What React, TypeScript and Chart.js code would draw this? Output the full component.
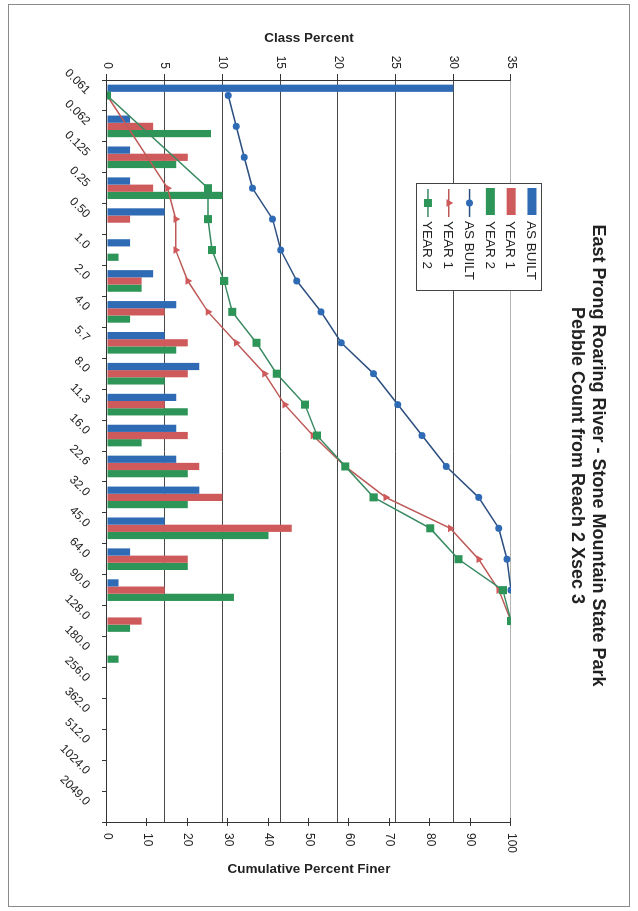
import React, { useEffect, useRef } from 'react';
import { Chart, registerables } from 'chart.js';

Chart.register(...registerables);

// Particle size classes (mm)
const sizeClasses = [
  '0.061', '0.062', '0.125', '0.25', '0.50', '1.0', '2.0', '4.0', '5.7', '8.0', '11.3', '16.0',
  '22.6', '32.0', '45.0', '64.0', '90.0', '128.0', '180.0', '256.0', '362.0', '512.0', '1024.0', '2049.0',
];

// Class percent per size class
const classAsBuilt = [30, 2, 2, 2, 5, 2, 4, 6, 5, 8, 6, 6, 6, 8, 5, 2, 1, 0, 0, 0, 0, 0, 0, 0];
const classYear1 = [0, 4, 7, 4, 2, 0, 3, 5, 7, 7, 5, 7, 8, 10, 16, 7, 5, 3, 0, 0, 0, 0, 0, 0];
const classYear2 = [0, 9, 6, 10, 0, 1, 3, 2, 6, 5, 7, 3, 7, 7, 14, 7, 11, 2, 1, 0, 0, 0, 0, 0];

// Cumulative percent finer
const cumAsBuilt = [30, 32, 34, 36, 41, 43, 47, 53, 58, 66, 72, 78, 84, 92, 97, 99, 100, null, null, null, null, null, null, null];
const cumYear1 = [0, null, null, 15, 17, 17, 20, 25, 32, 39, 44, 51, 59, 69, 85, 92, 97, 100, null, null, null, null, null, null];
const cumYear2 = [0, null, null, 25, 25, 26, 29, 31, 37, 42, 49, 52, 59, 66, 80, 87, 98, 100, null, null, null, null, null, null];

const classTicks = [0, 5, 10, 15, 20, 25, 30, 35];
const cumTicks = [0, 10, 20, 30, 40, 50, 60, 70, 80, 90, 100];

const titleLines = ['East Prong Roaring River - Stone Mountain State Park', 'Pebble Count from Reach 2 Xsec 3'];
const leftTitle = 'Class Percent';
const rightTitle = 'Cumulative Percent Finer';

const FONT = "'Liberation Sans', Arial, Helvetica, sans-serif";
const TEXT = '#222222';
const AXIS = '#333333';

const BLUE = '#2e6bb4';
const RED = '#cf5a5c';
const GREEN = '#2e9558';

const W = 911;
const H = 638;

// Frame, right-axis cross ticks, right-axis title and the boxed legend
const extrasPlugin = {
  id: 'extras',
  beforeDraw(chart: any) {
    const { ctx } = chart;
    ctx.save();
    ctx.strokeStyle = '#8a8a8a';
    ctx.lineWidth = 1;
    ctx.strokeRect(4.5, 8.5, W - 9, H - 17);
    ctx.restore();
  },
  afterDraw(chart: any) {
    const { ctx, chartArea: area } = chart;
    const y2 = chart.scales.y2;
    ctx.save();
    ctx.strokeStyle = AXIS;
    ctx.lineWidth = 1;
    cumTicks.forEach((v) => {
      const py = Math.round(y2.getPixelForValue(v)) + 0.5;
      ctx.beginPath();
      ctx.moveTo(area.right - 4, py);
      ctx.lineTo(area.right + 4, py);
      ctx.stroke();
    });
    ctx.restore();

    ctx.save();
    ctx.translate(area.right + 47, (area.top + area.bottom) / 2);
    ctx.rotate(-Math.PI / 2);
    ctx.font = `bold 13.5px ${FONT}`;
    ctx.fillStyle = TEXT;
    ctx.textAlign = 'center';
    ctx.textBaseline = 'middle';
    ctx.fillText(rightTitle, 0, 0);
    ctx.restore();

    // legend
    const bx = area.left + 103;
    const by = area.top - 31;
    const bw = 107;
    const bh = 125;
    ctx.save();
    ctx.fillStyle = '#ffffff';
    ctx.fillRect(bx, by, bw, bh);
    ctx.strokeStyle = '#444444';
    ctx.lineWidth = 1;
    ctx.strokeRect(Math.round(bx) + 0.5, Math.round(by) + 0.5, bw, bh);
    const ds = chart.data.datasets;
    ctx.font = `13.5px ${FONT}`;
    ctx.textBaseline = 'middle';
    ctx.textAlign = 'left';
    ds.forEach((d: any, i: number) => {
      const ry = by + 10 + i * 20.8;
      const sx = bx + 5;
      if (d.type === 'bar') {
        ctx.fillStyle = d.backgroundColor;
        ctx.fillRect(sx, ry - 4.5, 27, 9);
      } else {
        ctx.strokeStyle = d.borderColor;
        ctx.lineWidth = 1.5;
        ctx.beginPath();
        ctx.moveTo(sx + 1, ry);
        ctx.lineTo(sx + 29, ry);
        ctx.stroke();
        const cx = sx + 15;
        ctx.fillStyle = d.pointBackgroundColor;
        if (d.pointStyle === 'circle') {
          ctx.beginPath();
          ctx.arc(cx, ry, 3.5, 0, Math.PI * 2);
          ctx.fill();
        } else if (d.pointStyle === 'triangle') {
          ctx.beginPath();
          ctx.moveTo(cx, ry - 4.5);
          ctx.lineTo(cx + 3.9, ry + 2.25);
          ctx.lineTo(cx - 3.9, ry + 2.25);
          ctx.closePath();
          ctx.fill();
        } else {
          ctx.fillRect(cx - 4, ry - 4, 8, 8);
        }
      }
      ctx.fillStyle = TEXT;
      ctx.fillText(d.label, bx + 38, ry + 1);
    });
    ctx.restore();
  },
};

export default function App() {
  const canvasRef = useRef<HTMLCanvasElement | null>(null);

  useEffect(() => {
    const canvas = canvasRef.current;
    if (!canvas) return;
    Chart.defaults.font.family = FONT;

    const chart = new Chart(canvas, {
      type: 'bar',
      data: {
        labels: sizeClasses,
        datasets: [
          { type: 'bar', label: 'AS BUILT', data: classAsBuilt, backgroundColor: BLUE, yAxisID: 'y', order: 2, categoryPercentage: 0.7, barPercentage: 1 },
          { type: 'bar', label: 'YEAR 1', data: classYear1, backgroundColor: RED, yAxisID: 'y', order: 2, categoryPercentage: 0.7, barPercentage: 1 },
          { type: 'bar', label: 'YEAR 2', data: classYear2, backgroundColor: GREEN, yAxisID: 'y', order: 2, categoryPercentage: 0.7, barPercentage: 1 },
          {
            type: 'line', label: 'AS BUILT', data: cumAsBuilt, yAxisID: 'y2', order: 1,
            borderColor: '#2c4f80', borderWidth: 1.5, pointStyle: 'circle', pointRadius: 3.5,
            pointBackgroundColor: BLUE, pointBorderColor: BLUE, pointBorderWidth: 0, spanGaps: true, tension: 0,
          },
          {
            type: 'line', label: 'YEAR 1', data: cumYear1, yAxisID: 'y2', order: 1,
            borderColor: '#bd5a58', borderWidth: 1.5, pointStyle: 'triangle', pointRadius: 4.5,
            pointBackgroundColor: RED, pointBorderColor: RED, pointBorderWidth: 0, spanGaps: true, tension: 0,
          },
          {
            type: 'line', label: 'YEAR 2', data: cumYear2, yAxisID: 'y2', order: 0,
            borderColor: '#3a8a63', borderWidth: 1.5, pointStyle: 'rect', pointRadius: 5.7,
            pointBackgroundColor: GREEN, pointBorderColor: GREEN, pointBorderWidth: 0, spanGaps: true, tension: 0,
          },
        ] as any,
      },
      options: {
        responsive: false,
        animation: false,
        devicePixelRatio: 1,
        layout: { padding: { left: 5, right: 5, top: 8, bottom: 5 } },
        plugins: {
          legend: { display: false },
          tooltip: { enabled: false },
          title: {
            display: true,
            text: titleLines,
            color: TEXT,
            font: { size: 18, weight: 'bold', lineHeight: 1.14 },
            padding: { top: 22, bottom: 56 },
          },
        },
        scales: {
          x: {
            type: 'category',
            offset: true,
            grid: { display: true, drawOnChartArea: false, offset: true, tickLength: 5, color: AXIS },
            border: { color: AXIS },
            ticks: { autoSkip: false, minRotation: 45, maxRotation: 45, color: TEXT, font: { size: 12 }, padding: 9, labelOffset: -3 },
            afterFit: (s: any) => { s.height = 102; },
          },
          y: {
            position: 'left',
            min: 0,
            max: 35,
            afterBuildTicks: (s: any) => { s.ticks = classTicks.map((v) => ({ value: v })); },
            ticks: { color: TEXT, font: { size: 12 }, padding: 5 },
            grid: {
              color: (c: any) => (c.tick && c.tick.value === 35 ? '#b4b4b4' : '#4a4a4a'),
              tickColor: AXIS,
              tickLength: 6,
            },
            border: { color: AXIS },
            title: { display: true, text: leftTitle, color: TEXT, font: { size: 13.5, weight: 'bold' }, padding: { top: 25, bottom: 0 } },
            afterFit: (s: any) => { s.width = 75; },
          },
          y2: {
            position: 'right',
            min: 0,
            max: 100,
            afterBuildTicks: (s: any) => { s.ticks = cumTicks.map((v) => ({ value: v })); },
            ticks: { color: TEXT, font: { size: 12 }, padding: 11 },
            grid: { drawOnChartArea: false, drawTicks: false },
            border: { color: AXIS },
            afterFit: (s: any) => { s.width = 84; },
          },
        },
      } as any,
      plugins: [extrasPlugin],
    });

    return () => chart.destroy();
  }, []);

  return (
    <div style={{ position: 'fixed', left: 0, top: 0, width: H, height: W, overflow: 'hidden', background: '#ffffff' }}>
      <div
        style={{
          position: 'absolute',
          left: 0,
          top: 0,
          width: W,
          height: H,
          transformOrigin: '0 0',
          transform: `translate(${H}px, 0px) rotate(90deg)`,
        }}
      >
        <canvas ref={canvasRef} width={W} height={H} style={{ display: 'block', width: W, height: H }} />
      </div>
    </div>
  );
}
